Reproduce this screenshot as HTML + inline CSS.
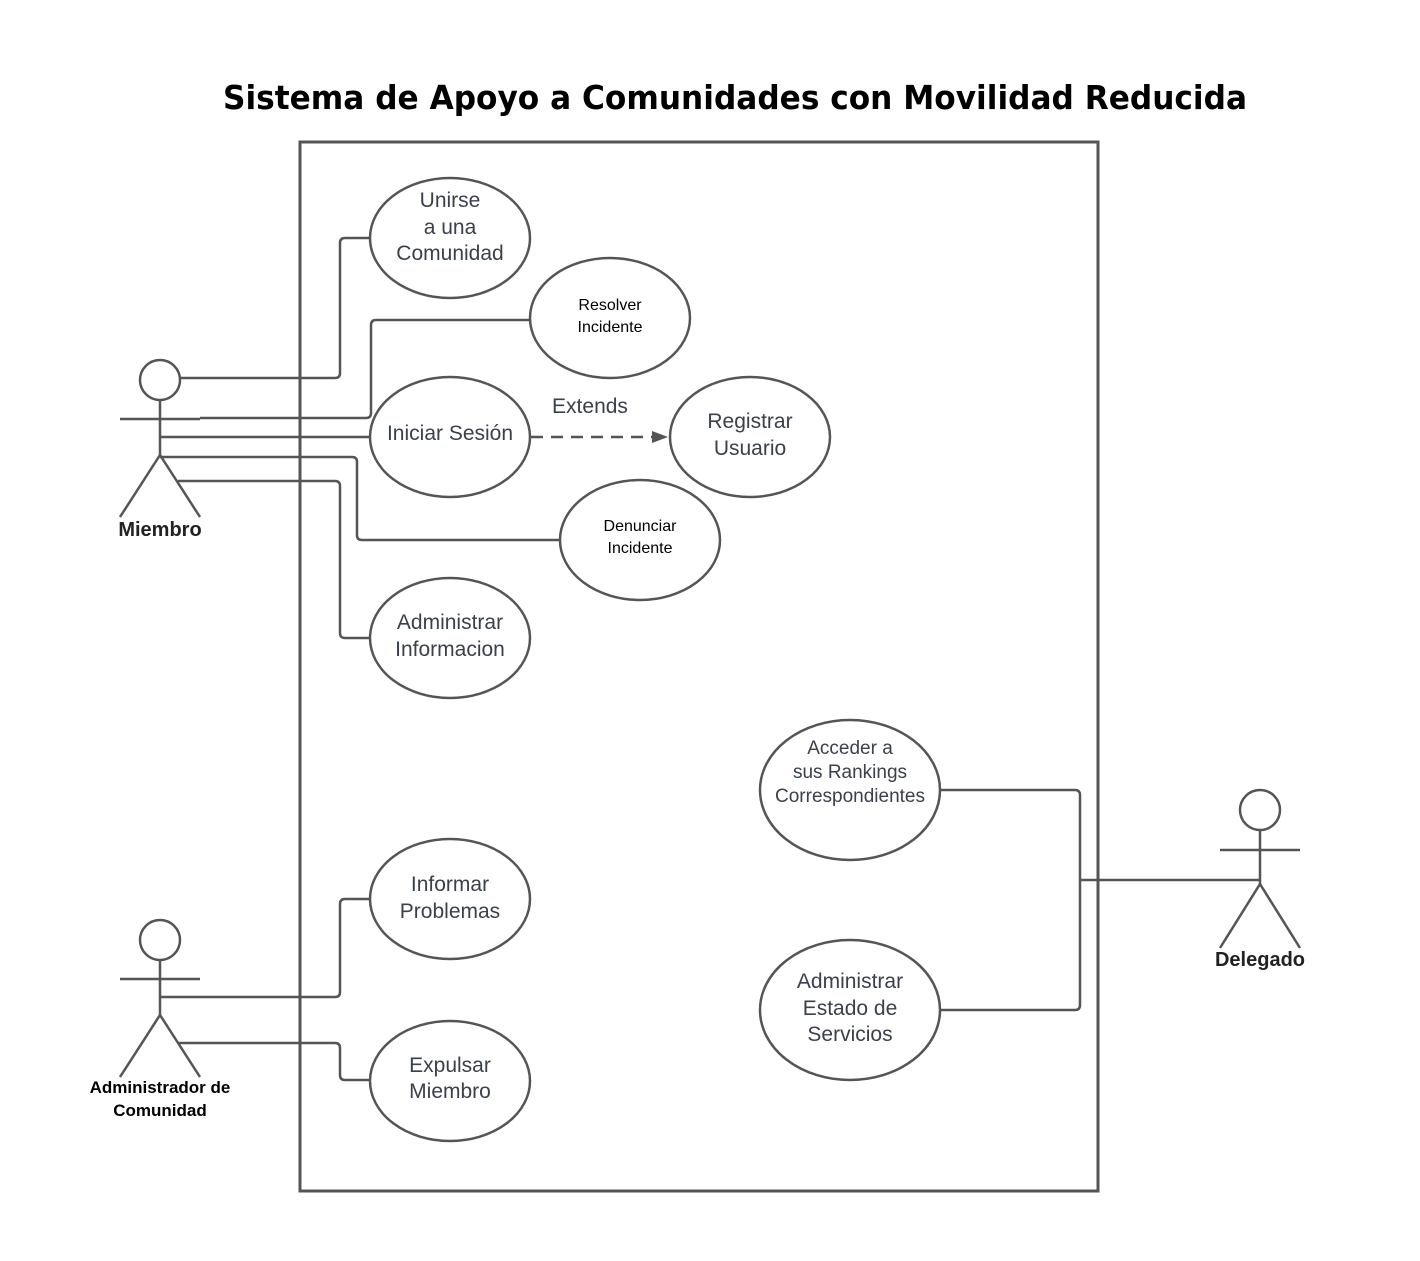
<!DOCTYPE html>
<html><head><meta charset="utf-8"><style>
html,body{margin:0;padding:0;background:#fff;}
svg{display:block;}
.t{font-family:"Liberation Sans",sans-serif;fill:#3a414a;text-anchor:middle;font-size:21px;}
.s{font-family:"Liberation Sans",sans-serif;fill:#000;text-anchor:middle;font-size:16px;}
.a{font-family:"Liberation Sans",sans-serif;fill:#222;text-anchor:middle;font-size:20px;font-weight:bold;}
.b{font-family:"Liberation Sans",sans-serif;fill:#000;text-anchor:middle;font-size:17px;font-weight:bold;}
</style></head><body>
<svg width="1420" height="1261" viewBox="0 0 1420 1261" xmlns="http://www.w3.org/2000/svg">
<text x="223" y="109" textLength="1024" lengthAdjust="spacingAndGlyphs" style="font-family:'DejaVu Sans','Liberation Sans',sans-serif;font-weight:bold;font-size:33px;fill:#000">Sistema de Apoyo a Comunidades con Movilidad Reducida</text>
<g fill="none" stroke="#555" stroke-width="3">
<rect x="300" y="142" width="798" height="1049"/>
</g>
<g fill="none" stroke="#555" stroke-width="2.5" stroke-linejoin="round">
<circle cx="160" cy="380" r="20"/>
<line x1="160" y1="400" x2="160" y2="455"/>
<line x1="120" y1="419" x2="200" y2="419"/>
<line x1="160" y1="455" x2="120" y2="517"/>
<line x1="160" y1="455" x2="200" y2="517"/>
<circle cx="160" cy="940" r="20"/>
<line x1="160" y1="960" x2="160" y2="1015"/>
<line x1="120" y1="979" x2="200" y2="979"/>
<line x1="160" y1="1015" x2="120" y2="1077"/>
<line x1="160" y1="1015" x2="200" y2="1077"/>
<circle cx="1260" cy="810" r="20"/>
<line x1="1260" y1="830" x2="1260" y2="884"/>
<line x1="1220" y1="850" x2="1300" y2="850"/>
<line x1="1260" y1="884" x2="1220" y2="948"/>
<line x1="1260" y1="884" x2="1300" y2="948"/>
<path d="M181 378 H335 Q340 378 340 373 V243 Q340 238 345 238 H370"/>
<path d="M200 418 H366 Q371 418 371 413 V325 Q371 320 376 320 H530"/>
<path d="M160 437 H370"/>
<path d="M160 457 H352 Q357 457 357 462 V535 Q357 540 362 540 H560"/>
<path d="M178 481 H335 Q340 481 340 486 V633 Q340 638 345 638 H370"/>
<path d="M160 997 H335 Q340 997 340 992 V904 Q340 899 345 899 H370"/>
<path d="M178 1043 H335 Q340 1043 340 1048 V1075 Q340 1080 345 1080 H370"/>
<path d="M940 790 H1075 Q1080 790 1080 795 V1005 Q1080 1010 1075 1010 H940"/>
<path d="M1080 880 H1260"/>
<path d="M531 437 H660" stroke-dasharray="12 8"/>
<ellipse cx="450" cy="238" rx="80" ry="60"/>
<ellipse cx="610" cy="318" rx="80" ry="60"/>
<ellipse cx="450" cy="437" rx="80" ry="60"/>
<ellipse cx="750" cy="437" rx="80" ry="60"/>
<ellipse cx="640" cy="540" rx="80" ry="60"/>
<ellipse cx="450" cy="638" rx="80" ry="60"/>
<ellipse cx="850" cy="790" rx="90" ry="70"/>
<ellipse cx="850" cy="1010" rx="90" ry="70"/>
<ellipse cx="450" cy="899" rx="80" ry="60"/>
<ellipse cx="450" cy="1081" rx="80" ry="60"/>
</g>
<polygon points="668,437 652,431 652,443" fill="#555"/>
<text class="t" x="450" y="207">Unirse</text>
<text class="t" x="450" y="234">a una</text>
<text class="t" x="450" y="260">Comunidad</text>
<text class="s" x="610" y="310">Resolver</text>
<text class="s" x="610" y="332">Incidente</text>
<text class="t" x="450" y="440">Iniciar Sesión</text>
<text class="t" x="590" y="413">Extends</text>
<text class="t" x="750" y="428">Registrar</text>
<text class="t" x="750" y="455">Usuario</text>
<text class="s" x="640" y="531">Denunciar</text>
<text class="s" x="640" y="553">Incidente</text>
<text class="t" x="450" y="629">Administrar</text>
<text class="t" x="450" y="656">Informacion</text>
<text class="t" x="850" y="754" style="font-size:19px">Acceder a</text>
<text class="t" x="850" y="778" style="font-size:19px">sus Rankings</text>
<text class="t" x="850" y="802" style="font-size:19px">Correspondientes</text>
<text class="t" x="850" y="988">Administrar</text>
<text class="t" x="850" y="1015">Estado de</text>
<text class="t" x="850" y="1041">Servicios</text>
<text class="t" x="450" y="891">Informar</text>
<text class="t" x="450" y="918">Problemas</text>
<text class="t" x="450" y="1072">Expulsar</text>
<text class="t" x="450" y="1098">Miembro</text>
<text class="a" x="160" y="536">Miembro</text>
<text class="a" x="1260" y="966">Delegado</text>
<text class="b" x="160" y="1093">Administrador de</text>
<text class="b" x="160" y="1116">Comunidad</text>
</svg>
</body></html>
